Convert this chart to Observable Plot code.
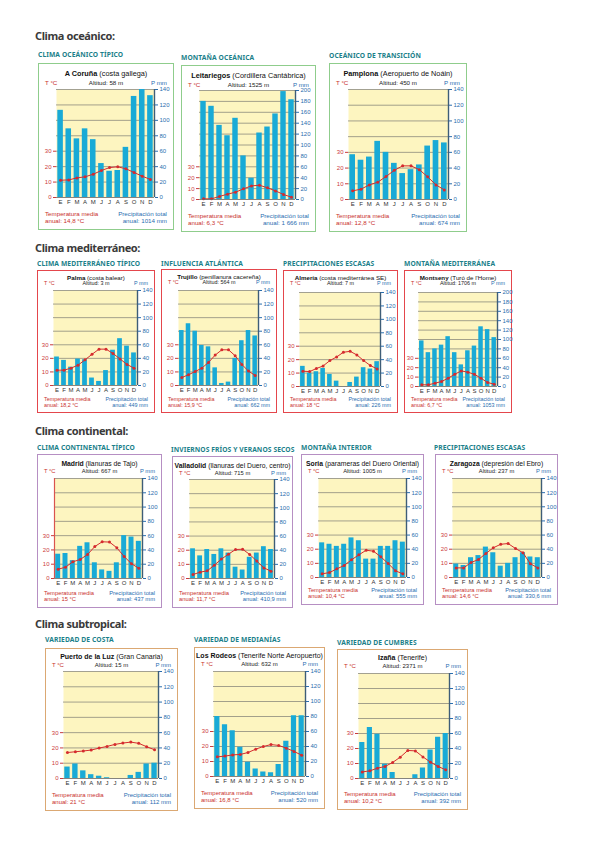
<!DOCTYPE html>
<html><head><meta charset="utf-8">
<script src="https://cdn.jsdelivr.net/npm/d3@7"></script>
<script src="https://cdn.jsdelivr.net/npm/@observablehq/plot@0.6"></script>
<style>
html,body{margin:0;padding:0;background:#fff;}
#page{position:relative;width:600px;height:848px;overflow:hidden;font-family:"Liberation Sans",Arial,sans-serif;}
.abs{position:absolute;white-space:nowrap;}
.sec{font-family:"Noto Sans",sans-serif;font-weight:700;font-size:11px;color:#3a3a3a;letter-spacing:-0.4px;transform:translateY(-50%);}
.sub{font-family:"Noto Sans",sans-serif;font-weight:700;font-size:6.7px;color:#1b7f8a;letter-spacing:0.1px;transform:translateY(-50%);}
.box{border:1.5px solid;box-sizing:border-box;background:#fff;}
.ttl{color:#111;transform:translate(-50%,-50%);}
.ttl b{font-weight:700;}
.alt{color:#222;transform:translate(-50%,-50%);}
.lt{color:#c9302c;transform:translateY(-50%);}
.rt{color:#1f6db0;transform:translate(-100%,-50%);text-align:right;}
svg{position:absolute;}
</style></head>
<body><div id="page"></div>
<script>
// ---- data ----
const months = ["E","F","M","A","M","J","J","A","S","O","N","D"];
const sectionTitles = ["Clima oceánico:","Clima mediterráneo:","Clima continental:","Clima subtropical:"];
const panelSubtitles = ["CLIMA OCEÁNICO TÍPICO","MONTAÑA OCEÁNICA","OCEÁNICO DE TRANSICIÓN",
  "CLIMA MEDITERRÁNEO TÍPICO","INFLUENCIA ATLÁNTICA","PRECIPITACIONES ESCASAS","MONTAÑA MEDITERRÁNEA",
  "CLIMA CONTINENTAL TÍPICO","INVIERNOS FRÍOS Y VERANOS SECOS","MONTAÑA INTERIOR","PRECIPITACIONES ESCASAS",
  "VARIEDAD DE COSTA","VARIEDAD DE MEDIANÍAS","VARIEDAD DE CUMBRES"];
const stationNames = ["A Coruña","Leitariegos","Pamplona","Palma","Trujillo","Almería","Montseny",
  "Madrid","Valladolid","Soria","Zaragoza","Puerto de la Luz","Los Rodeos","Izaña"];
const stationPlaces = ["(costa gallega)","(Cordillera Cantábrica)","(Aeropuerto de Noáin)","(costa balear)",
  "(penillanura cacereña)","(costa mediterránea SE)","(Turó de l'Home)","(llanuras de Tajo)",
  "(llanuras del Duero, centro)","(parameras del Duero Oriental)","(depresión del Ebro)","(Gran Canaria)",
  "(Tenerife Norte Aeropuerto)","(Tenerife)"];
const altitudes = ["58 m","1525 m","450 m","3 m","564 m","7 m","1706 m","667 m","715 m","1005 m","237 m","15 m","632 m","2371 m"];
const annualTemps = ["14,8 °C","6,3 °C","12,8 °C","18,2 °C","15,9 °C","18 °C","6,7 °C","15 °C","11,7 °C","10,4 °C","14,6 °C","21 °C","16,8 °C","10,2 °C"];
const annualPrecs = ["1014 mm","1 666 mm","674 mm","449 mm","662 mm","226 mm","1053 mm","437 mm","410,9 mm","555 mm","330,6 mm","112 mm","520 mm","392 mm"];
const precMax = [140,200,140,140,140,140,200,140,140,140,140,140,140,140];

const corunaT = [11.2,11.4,12.7,13.4,15.1,17.5,19.4,19.9,18.6,16.2,13.8,11.7];
const corunaP = [113,89,76,89,75,44,34,35,65,131,140,132];
const leitariegosT = [0.6,0.6,2.8,4.9,6.7,9.8,12.5,13.1,10.7,7.9,4.6,2.1];
const leitariegosP = [180,171,136,117,149,80,39,122,133,157,198,183];
const pamplonaT = [5.5,6.6,9.3,11,14.6,18.6,21.4,21.4,19,14.4,9.3,6.1];
const pamplonaP = [57,50,54,74,60,46,33,38,44,68,75,72];
const palmaT = [11.3,11.3,12.8,15,18.9,23,26.8,26.8,23.6,19.6,15.5,12.8];
const palmaP = [42,37,27,39,38,11,6,22,52,69,58,48];
const trujilloT = [5.9,7.9,10.3,12.8,17,22.4,26.3,26.3,21.9,15.5,10.6,7.4];
const trujilloP = [81,91,80,59,57,26,3,5,40,66,81,73];
const almeriaT = [11.4,11.1,13.4,15.3,19.3,22,25.5,26.2,23.5,19.3,15.6,13.1];
const almeriaP = [30,20,22,27,18,8,0,6,14,28,26,37];
const montsenyT = [1.8,1.8,3.5,5.3,8.8,13,16.6,15.2,13,8.8,4.2,2.5];
const montsenyP = [97,72,80,88,106,72,46,76,86,127,121,104];
const madridT = [6.5,7.9,11.7,13.3,16.8,22.4,25.7,25.5,21.5,15.4,10.3,7.2];
const madridP = [34,35,25,45,50,22,12,10,22,60,58,52];
const valladolidT = [2.8,4.5,5.4,9.4,13.7,17.2,20.5,20.7,17,12.3,7.5,5.2];
const valladolidP = [42,32,41,34,42,36,16,12,30,36,45,41];
const soriaT = [2.6,3.5,6.1,8.5,12.5,16,19.3,18.6,14.6,9.9,4.7,2.6];
const soriaP = [49,47,44,47,56,52,26,26,44,44,52,50];
const zaragozaT = [6.8,6.8,10.6,12.7,17,21,23.5,24,20.5,17.5,9.7,6.8];
const zaragozaP = [19,17,28,31,43,35,16,20,28,35,29,28];
const puertoT = [17,17.5,18,18.6,19.9,21,22.3,23.2,23.8,23,20.8,18.8];
const puertoP = [15,19,10,5,3,1,0,0,4,8,19,20];
const rodeosT = [13.1,13.6,14.4,14.7,16,18.2,20,21.3,20.7,18.9,16.7,14.2];
const rodeosP = [80,69,61,39,19,10,6,5,16,47,81,81];
const izanaT = [4.4,5.1,6.9,8,10.7,14.2,18.7,18.4,14.4,10.9,8,5.8];
const izanaP = [48,68,59,19,8,0,0,5,14,38,55,60];

const tempSeries = [corunaT,leitariegosT,pamplonaT,palmaT,trujilloT,almeriaT,montsenyT,madridT,valladolidT,soriaT,zaragozaT,puertoT,rodeosT,izanaT];
const precSeries = [corunaP,leitariegosP,pamplonaP,palmaP,trujilloP,almeriaP,montsenyP,madridP,valladolidP,soriaP,zaragozaP,puertoP,rodeosP,izanaP];

// ---- layout (positions only) ----
const sectionPos = [[35,35],[35,247],[35,430],[35,623]];
const subPos = [[38,54],[181,57],[329,55],[37,263],[161,263],[283,263],[404,263],[37,447],[171,449],[301,447],[434,447],[45,639],[194,639],[337,642]];
const boxes = [[38,63,136,167],[181,65,135,167],[329,63,138,169],
  [37,270,118,143],[161,269,116,144],[283,270,115,143],[404,270,108,143],
  [37,454,125,154],[172,456,121,152],[301,454,123,151],[435,454,123,151],
  [45,648,133,163],[194,647,131,162],[337,649,131,161]];
const frames = [[56,154,89,197],[199,295,90,199],[348,448,89,199],
  [53,137,290,385],[178,258,290,385],[299,380,292,386],[418,497,292,386],
  [54,142,478,578],[189,274,479,578],[318,406,478,577],[452,541,478,577],
  [63,158,671,778],[213,305,671,776],[358,449,673,778]];
const panelRow = [0,0,0,1,1,1,1,2,2,2,2,3,3,3];
const redLeftEdge = [false,false,false,false,false,false,false,true,false,false,false,false,false,false];
const rowText = [{t:10,a:19,f1:-17,f2:-10,fs:7.3,ss:6.2},{t:7,a:13,f1:-14,f2:-8,fs:6.2,ss:5.4},
  {t:9,a:16.5,f1:-15,f2:-9,fs:6.8,ss:5.8},{t:8,a:17,f1:-16,f2:-9,fs:7,ss:6}];
const borderColors = ["#8fcd8c","#e4464c","#b68fc3","#dba873"];

const page = document.getElementById("page");
function add(cls, x, y, html, style) {
  const d = document.createElement("div");
  d.className = "abs " + cls;
  d.style.left = x + "px"; d.style.top = y + "px";
  if (style) Object.assign(d.style, style);
  d.innerHTML = html;
  page.appendChild(d);
  return d;
}

sectionTitles.forEach((s,i)=>add("sec", sectionPos[i][0], sectionPos[i][1], s));

function climogram(T, P, max, fr, redEdge) {
  const mL = 14, mR = 20, mT = 3, mB = 10;
  const w = fr[1]-fr[0]+mL+mR, h = fr[3]-fr[2]+mT+mB;
  const rows = months.map((m,i)=>({i, m, t:T[i], p:P[i]}));
  const svg = Plot.plot({
    width:w, height:h, marginLeft:mL, marginRight:mR, marginTop:mT, marginBottom:mB,
    x:{domain:[0,12], axis:null}, y:{domain:[0,max], axis:null},
    style:{fontFamily:"Liberation Sans, Arial, sans-serif", fontSize:"6px", background:"transparent", overflow:"visible"},
    marks:[
      Plot.frame({fill:"#fdf5c0", stroke:null}),
      Plot.ruleY(d3.range(20,max+1,20), {stroke:"#8c8a7c", strokeWidth:0.8}),
      Plot.rectY(rows, {x1:d=>d.i+0.16, x2:d=>d.i+0.84, y:"p", fill:"#19aad6"}),
      Plot.line(rows, {x:d=>d.i+0.5, y:d=>d.t*2, stroke:"#d52b2e", strokeWidth:1}),
      Plot.dot(rows, {x:d=>d.i+0.5, y:d=>d.t*2, r:1.5, fill:"#d52b2e"}),
      Plot.ruleY([0], {stroke:"#666", strokeWidth:0.8}),
      Plot.ruleX([12], {stroke:"#3e5d78", strokeWidth:1.4}),
      redEdge ? Plot.ruleX([0], {stroke:"#d9534f", strokeWidth:1.2}) : null,
      Plot.axisY({anchor:"right", label:null, ticks:d3.range(0,max+1,20), tickSize:3, tickPadding:2, color:"#2a6eae"}),
      Plot.axisY({anchor:"left", label:null, ticks:[0,20,40,60], tickFormat:d=>d/2, tickSize:3, tickPadding:2, color:"#cc3a3a"}),
      Plot.axisX({label:null, ticks:d3.range(12).map(i=>i+0.5), tickFormat:d=>months[Math.floor(d)], tickSize:0, tickPadding:2, color:"#333"})
    ]
  });
  svg.style.left = (fr[0]-mL) + "px";
  svg.style.top = (fr[2]-mT) + "px";
  return svg;
}

boxes.forEach((b,i)=>{
  const r = rowText[panelRow[i]];
  add("sub", subPos[i][0], subPos[i][1], panelSubtitles[i]);
  add("box", b[0], b[1], "", {width:b[2]+"px", height:b[3]+"px", borderColor:borderColors[panelRow[i]]});
  const cx = b[0]+b[2]/2, right = b[0]+b[2]-7, left = b[0]+7, bottom = b[1]+b[3];
  add("ttl", cx, b[1]+r.t, `<b>${stationNames[i]}</b> ${stationPlaces[i]}`, {fontSize:r.fs+"px"});
  add("alt", cx, b[1]+r.a, `Altitud: ${altitudes[i]}`, {fontSize:r.ss+"px"});
  add("lt", left, b[1]+r.a, "T °C", {fontSize:r.ss+"px"});
  add("rt", right, b[1]+r.a, "P mm", {fontSize:r.ss+"px"});
  add("lt", left, bottom+r.f1, "Temperatura media", {fontSize:r.ss+"px"});
  add("lt", left, bottom+r.f2, `anual: ${annualTemps[i]}`, {fontSize:r.ss+"px"});
  add("rt", right, bottom+r.f1, "Precipitación total", {fontSize:r.ss+"px"});
  add("rt", right, bottom+r.f2, `anual: ${annualPrecs[i]}`, {fontSize:r.ss+"px"});
  page.appendChild(climogram(tempSeries[i], precSeries[i], precMax[i], frames[i], redLeftEdge[i]));
});
</script>
</body></html>
